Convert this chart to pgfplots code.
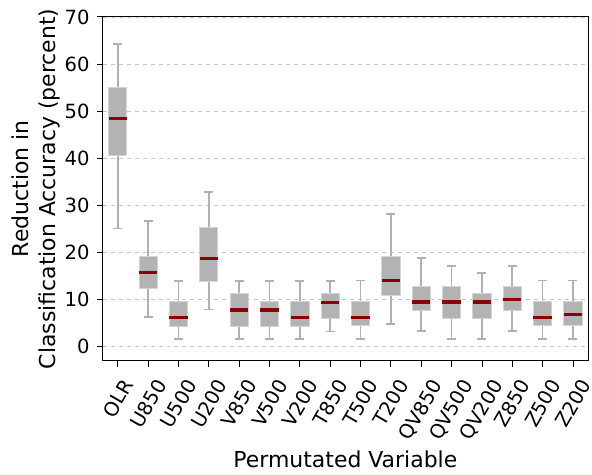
\documentclass[border=0pt]{standalone}
\usepackage{graphicx}
\usepackage{pgfplots}
\pgfplotsset{compat=1.18}
\usepgfplotslibrary{statistics}
\usepackage{fontspec}
\setmainfont{DejaVu Sans}
\definecolor{boxfill}{HTML}{B3B3B3}
\definecolor{boxedge}{HTML}{D4D4D4}
\definecolor{whisk}{HTML}{B0B0B0}
\definecolor{med}{HTML}{8B0000}

% lower whisker, lower quartile, median, upper quartile, upper whisker
\newcommand{\bx}[6]{%
  \addplot[boxplot prepared={draw position=#1, draw direction=y,
    lower whisker=#2, lower quartile=#3, median=#4,
    upper quartile=#5, upper whisker=#6}]
    coordinates {};}
\newcommand{\rl}[1]{\rotatebox{60}{#1}}

\begin{document}
\begin{tikzpicture}
\begin{axis}[
  width=365pt, height=258.6pt, scale only axis,
  xmin=-0.5, xmax=15.5, ymin=-3.1, ymax=70,
  xtick={0,...,15},
  xticklabels={\rl{OLR},\rl{U850},\rl{U500},\rl{U200},\rl{V850},\rl{V500},\rl{V200},\rl{T850},
    \rl{T500},\rl{T200},\rl{QV850},\rl{QV500},\rl{QV200},\rl{Z850},\rl{Z500},\rl{Z200}},
  x tick label style={anchor=north, inner sep=0pt},
  xticklabel shift=8pt,
  yticklabel shift=2pt,
  ytick={0,10,...,70},
  /pgf/number format/assume math mode=true,
  tick align=outside, xtick pos=bottom, ytick pos=left,
  major tick length=4.3pt,
  tick style={black, line width=0.6pt},
  axis line style={black, line width=0.8pt},
  ymajorgrids, grid style={gray!45, dashed, line width=0.5pt},
  ticklabel style={font=\fontsize{14.7}{17}\selectfont},
  label style={font=\fontsize{16.5}{20}\selectfont},
  xlabel={Permutated Variable},
  xlabel shift=2.5pt,
  ylabel={Reduction in\\Classification Accuracy (percent)},
  ylabel style={align=center},
  ylabel shift=-3pt,
  boxplot/draw direction=y,
  boxplot/box extend=0.6,
  boxplot/whisker extend=0.3,
  boxplot/every box/.style={fill=boxfill, draw=boxedge, line width=0.7pt},
  boxplot/every whisker/.style={draw=whisk, line width=1.2pt},
  boxplot/every median/.style={draw=med, line width=2.3pt},
]
\bx{0}{25.0}{40.5}{48.5}{55.1}{64.3}
\bx{1}{6.2}{12.2}{15.6}{19.0}{26.6}
\bx{2}{1.5}{4.3}{6.2}{9.6}{13.9}
\bx{3}{7.8}{13.7}{18.7}{25.3}{32.8}
\bx{4}{1.5}{4.3}{7.7}{11.2}{13.9}
\bx{5}{1.5}{4.3}{7.7}{9.6}{13.9}
\bx{6}{1.5}{4.3}{6.2}{9.6}{13.9}
\bx{7}{3.1}{5.8}{9.3}{11.2}{13.9}
\bx{8}{1.5}{4.4}{6.1}{9.6}{14.0}
\bx{9}{4.7}{10.7}{14.0}{19.0}{28.1}
\bx{10}{3.2}{7.6}{9.4}{12.8}{18.8}
\bx{11}{1.5}{5.9}{9.4}{12.8}{17.1}
\bx{12}{1.5}{5.9}{9.4}{11.3}{15.6}
\bx{13}{3.2}{7.6}{10.0}{12.8}{17.1}
\bx{14}{1.5}{4.4}{6.1}{9.6}{14.0}
\bx{15}{1.5}{4.4}{6.8}{9.6}{14.0}
\end{axis}
\path ([yshift=12.7pt]current axis.north) ([yshift=-85.5pt]current axis.south)
  ([xshift=-77.2pt]current axis.west) ([xshift=1.5pt]current axis.east);
\end{tikzpicture}
\end{document}
